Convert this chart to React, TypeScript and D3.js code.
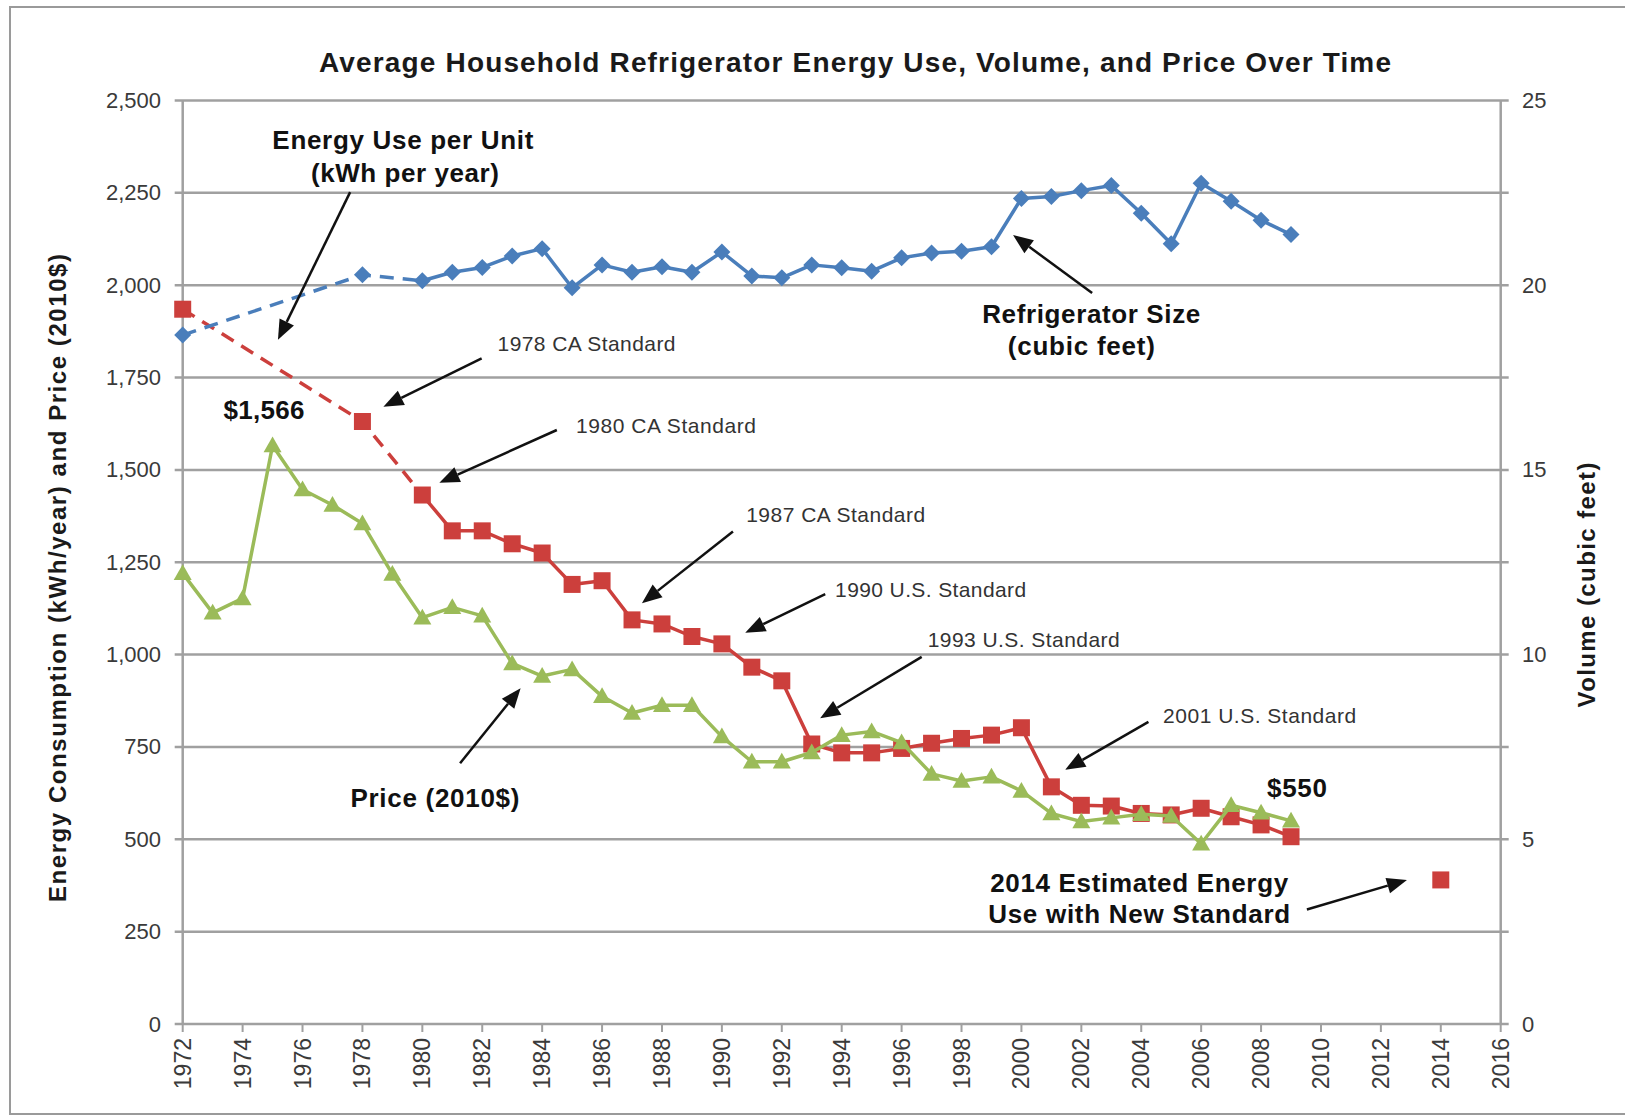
import React from "react";
import * as d3 from "d3";

// ---- data ----
const energyYears = [1972, 1978, 1980, 1981, 1982, 1983, 1984, 1985, 1986, 1987, 1988, 1989, 1990, 1991, 1992, 1993, 1994, 1995, 1996, 1997, 1998, 1999, 2000, 2001, 2002, 2003, 2004, 2005, 2006, 2007, 2008, 2009];
const energyKwh = [1935, 1631, 1432, 1335, 1335, 1300, 1275, 1190, 1200, 1094, 1083, 1049, 1029, 966, 929, 758, 734, 734, 746, 760, 773, 782, 802, 642, 592, 590, 570, 566, 584, 561, 539, 507];
const estimateYear = 2014;
const estimateKwh = 390;

const priceYears = [1972, 1973, 1974, 1975, 1976, 1977, 1978, 1979, 1980, 1981, 1982, 1983, 1984, 1985, 1986, 1987, 1988, 1989, 1990, 1991, 1992, 1993, 1994, 1995, 1996, 1997, 1998, 1999, 2000, 2001, 2002, 2003, 2004, 2005, 2006, 2007, 2008, 2009];
const priceUsd = [1220, 1113, 1152, 1566, 1447, 1405, 1355, 1218, 1100, 1128, 1105, 976, 942, 960, 887, 842, 863, 863, 778, 710, 710, 735, 782, 792, 762, 677, 658, 669, 631, 570, 548, 558, 568, 563, 488, 592, 572, 550];

const volumeYears = [1972, 1978, 1980, 1981, 1982, 1983, 1984, 1985, 1986, 1987, 1988, 1989, 1990, 1991, 1992, 1993, 1994, 1995, 1996, 1997, 1998, 1999, 2000, 2001, 2002, 2003, 2004, 2005, 2006, 2007, 2008, 2009];
const volumeCuFt = [18.65, 20.28, 20.12, 20.35, 20.48, 20.79, 20.99, 19.93, 20.55, 20.35, 20.5, 20.35, 20.9, 20.25, 20.2, 20.55, 20.47, 20.38, 20.74, 20.87, 20.92, 21.04, 22.35, 22.4, 22.56, 22.7, 21.95, 21.12, 22.76, 22.27, 21.76, 21.37];

// the first three points of energy and volume are joined by dashed lines
const dashedCount = 3;

const leftTicks = [0, 250, 500, 750, 1000, 1250, 1500, 1750, 2000, 2250, 2500];
const rightTicks = [0, 5, 10, 15, 20, 25];
const yearTicks = [1972, 1974, 1976, 1978, 1980, 1982, 1984, 1986, 1988, 1990, 1992, 1994, 1996, 1998, 2000, 2002, 2004, 2006, 2008, 2010, 2012, 2014, 2016];

const title = "Average Household Refrigerator Energy Use, Volume, and Price Over Time";

// annotations, placed in data units (year, left-axis value)
const notes = [
  { text: "Energy Use per Unit", yr: 1979.35, v: 2393, anchor: "middle", bold: true, len: 261 },
  { text: "(kWh per year)", yr: 1979.42, v: 2304, anchor: "middle", bold: true, len: 188 },
  { text: "1978 CA Standard", yr: 1982.51, v: 1841, anchor: "start", bold: false, len: 178 },
  { text: "1980 CA Standard", yr: 1985.13, v: 1619, anchor: "start", bold: false, len: 180 },
  { text: "1987 CA Standard", yr: 1990.81, v: 1378, anchor: "start", bold: false, len: 179 },
  { text: "1990 U.S. Standard", yr: 1993.78, v: 1175, anchor: "start", bold: false, len: 191 },
  { text: "1993 U.S. Standard", yr: 1996.87, v: 1041, anchor: "start", bold: false, len: 192 },
  { text: "2001 U.S. Standard", yr: 2004.73, v: 836, anchor: "start", bold: false, len: 193 },
  { text: "Price (2010$)", yr: 1980.42, v: 612, anchor: "middle", bold: true, len: 169 },
  { text: "$1,566", yr: 1974.71, v: 1661, anchor: "middle", bold: true, len: 81 },
  { text: "$550", yr: 2009.2, v: 639, anchor: "middle", bold: true, len: 60 },
  { text: "Refrigerator Size", yr: 2002.33, v: 1922, anchor: "middle", bold: true, len: 218 },
  { text: "(cubic feet)", yr: 2002.0, v: 1835, anchor: "middle", bold: true, len: 147 },
  { text: "2014 Estimated Energy", yr: 2003.93, v: 382, anchor: "middle", bold: true, len: 298 },
  { text: "Use with New Standard", yr: 2003.93, v: 298, anchor: "middle", bold: true, len: 302 },
];

const arrows = [
  { from: [1977.59, 2252], to: [1975.18, 1852] },
  { from: [1981.98, 1802], to: [1978.7, 1671] },
  { from: [1984.49, 1608], to: [1980.57, 1465] },
  { from: [1990.37, 1333], to: [1987.33, 1139] },
  { from: [1993.45, 1164], to: [1990.78, 1059] },
  { from: [1996.67, 994], to: [1993.28, 828] },
  { from: [2004.24, 818], to: [2001.46, 688] },
  { from: [2009.53, 310], to: [2012.87, 390] },
  { from: [2002.36, 1979], to: [1999.72, 2136] },
  { from: [1981.26, 706], to: [1983.28, 909] },
];

const RED = "#cc3f3c";
const GREEN = "#9bbb59";
const BLUE = "#4a7ebb";
const GRID = "#a0a0a0";
const FONT = "'Liberation Sans', Arial, Helvetica, sans-serif";

const square = (cx: number, cy: number, r: number) =>
  `M${cx - r},${cy - r}H${cx + r}V${cy + r}H${cx - r}Z`;
const triangle = (cx: number, cy: number, r: number) =>
  `M${cx},${cy - r}L${cx + r},${cy + r * 0.75}L${cx - r},${cy + r * 0.75}Z`;
const diamond = (cx: number, cy: number, r: number) =>
  `M${cx},${cy - r}L${cx + r},${cy}L${cx},${cy + r}L${cx - r},${cy}Z`;

function arrowParts(x1: number, y1: number, x2: number, y2: number) {
  const len = 20, half = 8;
  const dx = x2 - x1, dy = y2 - y1;
  const L = Math.hypot(dx, dy);
  const ux = dx / L, uy = dy / L;
  const bx = x2 - ux * len, by = y2 - uy * len;
  return {
    bx, by,
    head: `${x2},${y2} ${bx - uy * half},${by + ux * half} ${bx + uy * half},${by - ux * half}`,
  };
}

export default function App() {
  const left = 182.7, right = 1500.7, top = 100.5, bottom = 1024;

  const x = d3.scaleLinear().domain([1972, 2016]).range([left, right]);
  const yL = d3.scaleLinear().domain([0, 2500]).range([bottom, top]);
  const yR = d3.scaleLinear().domain([0, 25]).range([bottom, top]);

  const energy = energyYears.map((yr, i) => [x(yr), yL(energyKwh[i])] as [number, number]);
  const price = priceYears.map((yr, i) => [x(yr), yL(priceUsd[i])] as [number, number]);
  const volume = volumeYears.map((yr, i) => [x(yr), yR(volumeCuFt[i])] as [number, number]);

  const line = d3.line();

  return (
    <svg
      width={1625}
      height={1119}
      style={{ position: "absolute", left: 0, top: 0, background: "#fff" }}
      fontFamily={FONT}
    >
      <rect x={10} y={7} width={1640} height={1107} fill="#fff" stroke="#9a9a9a" strokeWidth={2} />

      <text x={855} y={62} textAnchor="middle" dominantBaseline="central" fontSize={28} fontWeight="bold"
        fill="#1a1a1a" textLength={1072}>
        {title}
      </text>

      {/* gridlines */}
      {leftTicks.map((t) => (
        <g key={"g" + t}>
          <line x1={left - 8} x2={right + 8} y1={yL(t)} y2={yL(t)} stroke={GRID} strokeWidth={2.5} />
          <text x={161} y={yL(t)} textAnchor="end" dominantBaseline="central" fontSize={22} fill="#3a3a3a">
            {d3.format(",")(t)}
          </text>
        </g>
      ))}
      {rightTicks.map((t) => (
        <text key={"r" + t} x={1522} y={yR(t)} textAnchor="start" dominantBaseline="central" fontSize={22} fill="#3a3a3a">
          {t}
        </text>
      ))}

      {/* axes */}
      <line x1={left} x2={left} y1={top} y2={bottom} stroke={GRID} strokeWidth={2.5} />
      <line x1={right} x2={right} y1={top} y2={bottom} stroke={GRID} strokeWidth={2.5} />
      {yearTicks.map((yr) => (
        <g key={"x" + yr}>
          <line x1={x(yr)} x2={x(yr)} y1={bottom} y2={bottom + 8} stroke={GRID} strokeWidth={2} />
          <text
            transform={`translate(${x(yr)},${bottom + 14}) rotate(-90)`}
            textAnchor="end"
            dominantBaseline="central"
            fontSize={23}
            fill="#3a3a3a"
          >
            {yr}
          </text>
        </g>
      ))}

      <text transform={`translate(57,578) rotate(-90)`} textAnchor="middle" dominantBaseline="central"
        fontSize={24} fontWeight="bold" fill="#1a1a1a" textLength={648}>
        Energy Consumption (kWh/year) and Price (2010$)
      </text>
      <text transform={`translate(1586,585) rotate(-90)`} textAnchor="middle" dominantBaseline="central"
        fontSize={24} fontWeight="bold" fill="#1a1a1a" textLength={245}>
        Volume (cubic feet)
      </text>

      {/* energy */}
      <path d={line(energy.slice(0, dashedCount)) || ""} fill="none" stroke={RED} strokeWidth={3.5} strokeDasharray="14 9" />
      <path d={line(energy.slice(dashedCount - 1)) || ""} fill="none" stroke={RED} strokeWidth={3.5} strokeLinejoin="round" />
      {energy.map(([px, py], i) => (
        <path key={"e" + i} d={square(px, py, 8.5)} fill={RED} />
      ))}
      <path d={square(x(estimateYear), yL(estimateKwh), 8.5)} fill={RED} />

      {/* price */}
      <path d={line(price) || ""} fill="none" stroke={GREEN} strokeWidth={3.5} strokeLinejoin="round" />
      {price.map(([px, py], i) => (
        <path key={"p" + i} d={triangle(px, py, 9)} fill={GREEN} />
      ))}

      {/* volume */}
      <path d={line(volume.slice(0, dashedCount)) || ""} fill="none" stroke={BLUE} strokeWidth={3.5} strokeDasharray="14 9" />
      <path d={line(volume.slice(dashedCount - 1)) || ""} fill="none" stroke={BLUE} strokeWidth={3.5} strokeLinejoin="round" />
      {volume.map(([px, py], i) => (
        <path key={"v" + i} d={diamond(px, py, 8.5)} fill={BLUE} />
      ))}

      {/* annotations */}
      {arrows.map((a, i) => {
        const x1 = x(a.from[0]), y1 = yL(a.from[1]);
        const x2 = x(a.to[0]), y2 = yL(a.to[1]);
        const p = arrowParts(x1, y1, x2, y2);
        return (
          <g key={"a" + i}>
            <line x1={x1} y1={y1} x2={p.bx} y2={p.by} stroke="#111" strokeWidth={2.5} />
            <polygon points={p.head} fill="#111" />
          </g>
        );
      })}
      {notes.map((n, i) => (
        <text
          key={"n" + i}
          x={x(n.yr)}
          y={yL(n.v)}
          textAnchor={n.anchor}
          dominantBaseline="central"
          fontSize={n.bold ? 26 : 21}
          fontWeight={n.bold ? "bold" : "normal"}
          fill={n.bold ? "#111" : "#333"}
          textLength={n.len}
        >
          {n.text}
        </text>
      ))}
    </svg>
  );
}
